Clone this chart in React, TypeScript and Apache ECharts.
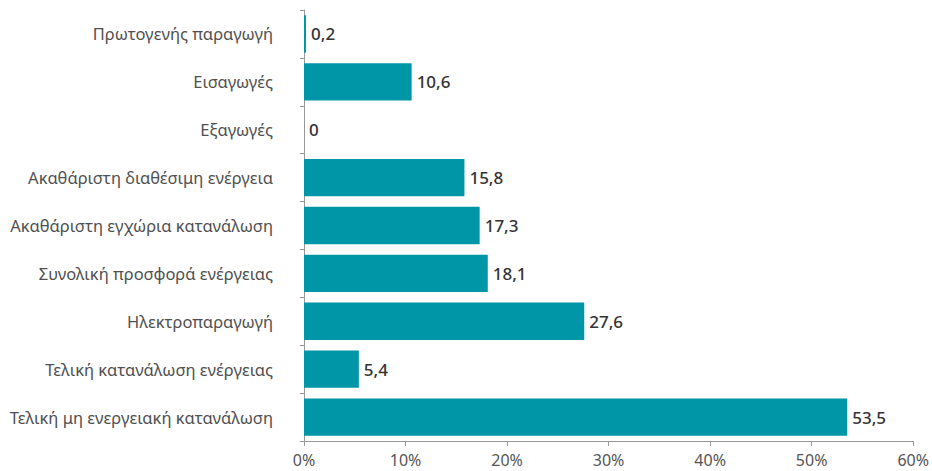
import React, { useEffect, useRef } from "react";
import * as echarts from "echarts";

const categories = [
  "Πρωτογενής παραγωγή",
  "Εισαγωγές",
  "Εξαγωγές",
  "Ακαθάριστη διαθέσιμη ενέργεια",
  "Ακαθάριστη εγχώρια κατανάλωση",
  "Συνολική προσφορά ενέργειας",
  "Ηλεκτροπαραγωγή",
  "Τελική κατανάλωση ενέργειας",
  "Τελική μη ενεργειακή κατανάλωση",
];
const values = [0.2, 10.6, 0, 15.8, 17.3, 18.1, 27.6, 5.4, 53.5];
const xTicks = [0, 10, 20, 30, 40, 50, 60];

export default function App() {
  const ref = useRef<HTMLDivElement>(null);
  useEffect(() => {
    if (!ref.current) return;
    const chart = echarts.init(ref.current, null, { renderer: "svg" });
    chart.setOption({
      animation: false,
      textStyle: { fontFamily: "'Noto Sans', sans-serif" },
      grid: { left: 304, right: 16, top: 10, bottom: 30, containLabel: false },
      xAxis: {
        type: "value",
        min: xTicks[0],
        max: xTicks[xTicks.length - 1],
        interval: 10,
        splitLine: { show: false },
        axisLine: { show: true, lineStyle: { color: "#999", width: 1 } },
        axisTick: { show: true, length: 5, inside: false, lineStyle: { color: "#999" } },
        axisLabel: {
          formatter: (v: number) => `${v}%`,
          color: "#555",
          fontSize: 16,
          lineHeight: 14,
          margin: 12,
        },
      },
      yAxis: {
        type: "category",
        data: categories,
        inverse: true,
        axisLine: { show: true, lineStyle: { color: "#999", width: 1 } },
        axisTick: { show: true, length: 4, lineStyle: { color: "#999" } },
        axisLabel: { color: "#505050", fontSize: 16.5, margin: 31 },
      },
      series: [
        {
          type: "bar",
          data: values,
          barCategoryGap: "22%",
          itemStyle: { color: "#0096A8" },
          label: {
            show: true,
            position: "right",
            distance: 5,
            color: "#333",
            fontSize: 17,
            fontWeight: 500,
            formatter: (p: any) => String(p.value).replace(".", ","),
          },
        },
      ],
    });
    return () => chart.dispose();
  }, []);
  return <div ref={ref} style={{ width: 932, height: 471, position: "absolute", left: 0, top: 0 }} />;
}
